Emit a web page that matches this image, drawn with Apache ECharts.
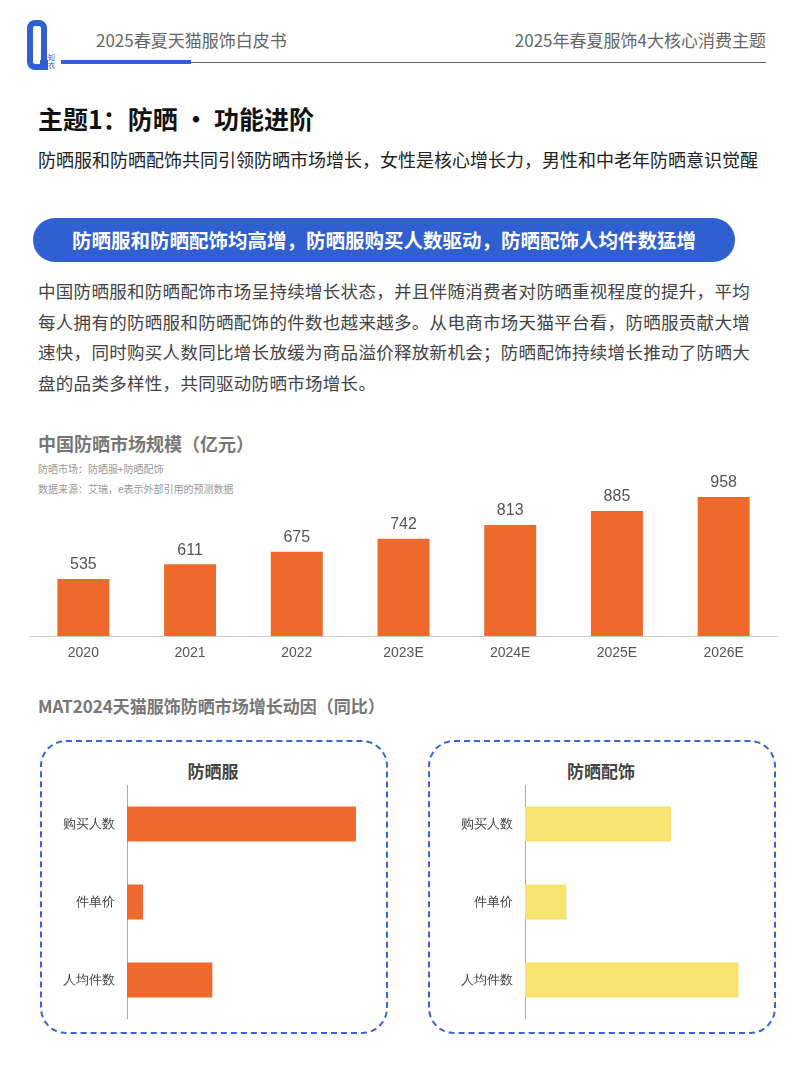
<!DOCTYPE html>
<html><head><meta charset="utf-8">
<script src="https://cdn.jsdelivr.net/npm/echarts@6/dist/echarts.min.js"></script>
<style>
body{margin:0;width:810px;height:1080px;background:#fff;font-family:"Noto Sans CJK SC",sans-serif;position:relative;overflow:hidden}
.a{position:absolute;white-space:nowrap}
.box{position:absolute;border:2px dashed #3a63d6;border-radius:26px}
</style></head><body>
<div class="a" style="left:27px;top:20px;width:20px;height:50px;border:6px solid #2f5fd0;border-radius:8px;box-sizing:border-box"></div>
<div class="a" style="left:40px;top:60px;width:8px;height:10px;background:#2f5fd0"></div>
<div class="a" style="left:48px;top:53px;font-size:7px;color:#2f5fd0;line-height:8px;white-space:normal;width:8px">知衣</div>
<div class="a" style="left:96px;top:27px;font-size:17px;color:#666">2025春夏天猫服饰白皮书</div>
<div class="a" style="right:44px;top:27px;font-size:17px;color:#666">2025年春夏服饰4大核心消费主题</div>
<div class="a" style="left:61px;top:60px;width:130px;height:4px;background:#2f5fd0"></div>
<div class="a" style="left:191px;top:62px;width:575px;height:1px;background:#666"></div>
<div class="a" style="left:38px;top:100px;font-size:25px;font-weight:bold;color:#111">主题1：防晒 · 功能进阶</div>
<div class="a" style="left:38px;top:146px;font-size:18px;color:#222">防晒服和防晒配饰共同引领防晒市场增长，女性是核心增长力，男性和中老年防晒意识觉醒</div>
<div class="a" style="left:33px;top:218px;width:702px;height:44px;border-radius:22px;background:#2f5fd0;color:#fff;font-size:19.5px;font-weight:bold;line-height:44px;text-align:center">防晒服和防晒配饰均高增，防晒服购买人数驱动，防晒配饰人均件数猛增</div>
<div class="a" style="left:38px;top:276px;width:725px;white-space:normal;font-size:17.5px;letter-spacing:0.3px;line-height:30.5px;color:#444">中国防晒服和防晒配饰市场呈持续增长状态，并且伴随消费者对防晒重视程度的提升，平均每人拥有的防晒服和防晒配饰的件数也越来越多。从电商市场天猫平台看，防晒服贡献大增速快，同时购买人数同比增长放缓为商品溢价释放新机会；防晒配饰持续增长推动了防晒大盘的品类多样性，共同驱动防晒市场增长。</div>
<div class="a" style="left:38px;top:430px;font-size:18px;font-weight:bold;color:#777">中国防晒市场规模（亿元）</div>
<div class="a" style="left:38px;top:461px;font-size:10px;color:#999">防晒市场：防晒服+防晒配饰</div>
<div class="a" style="left:38px;top:481px;font-size:10px;color:#999">数据来源：艾瑞，e表示外部引用的预测数据</div>
<div class="a" style="left:38px;top:693px;font-size:17px;font-weight:bold;color:#777">MAT2024天猫服饰防晒市场增长动因（同比）</div>
<div class="box" style="left:40px;top:740px;width:344px;height:290px"></div>
<div class="box" style="left:428px;top:740px;width:344px;height:290px"></div>
<div class="a" style="left:40px;top:758px;width:346px;text-align:center;font-size:17px;font-weight:bold;color:#444">防晒服</div>
<div class="a" style="left:428px;top:758px;width:346px;text-align:center;font-size:17px;font-weight:bold;color:#444">防晒配饰</div>
<div id="main" class="a" style="left:0;top:470px;width:810px;height:200px"></div>
<div id="c1" class="a" style="left:40px;top:785px;width:344px;height:240px"></div>
<div id="c2" class="a" style="left:428px;top:785px;width:344px;height:240px"></div>
<script>
const years = ['2020','2021','2022','2023E','2024E','2025E','2026E'];
const marketSize = [535, 611, 675, 742, 813, 885, 958];
const driverCats = ['购买人数','件单价','人均件数'];
const clothesDrivers = [228, 16, 85];
const accessoryDrivers = [152, 43, 222];

const main = echarts.init(document.getElementById('main'));
main.setOption({
  grid:{left:30,right:33,top:10,bottom:34},
  xAxis:{type:'category',data:years,axisLine:{lineStyle:{color:'#ccc'}},axisTick:{show:false},
    axisLabel:{color:'#555',fontSize:14,margin:10}},
  yAxis:{type:'value',min:241,max:1045,show:false},
  series:[{type:'bar',data:marketSize,barWidth:52,itemStyle:{color:'#ee6a2c'},
    label:{show:true,position:'top',color:'#555',fontSize:16,distance:6}}]
});

function driver(id, vals, color, left){
  const c = echarts.init(document.getElementById(id));
  c.setOption({
    grid:{left:left,right:20,top:0,bottom:6},
    xAxis:{type:'value',min:0,max:236,show:false},
    yAxis:{type:'category',data:driverCats,inverse:true,axisTick:{show:false},
      axisLine:{lineStyle:{color:'#aaa'}},axisLabel:{color:'#444',fontSize:13,margin:12}},
    series:[{type:'bar',data:vals,barWidth:35,itemStyle:{color:color}}]
  });
}
driver('c1', clothesDrivers, '#ee6a2c', 87);
driver('c2', accessoryDrivers, '#f7e46f', 97);
</script>
</body></html>
